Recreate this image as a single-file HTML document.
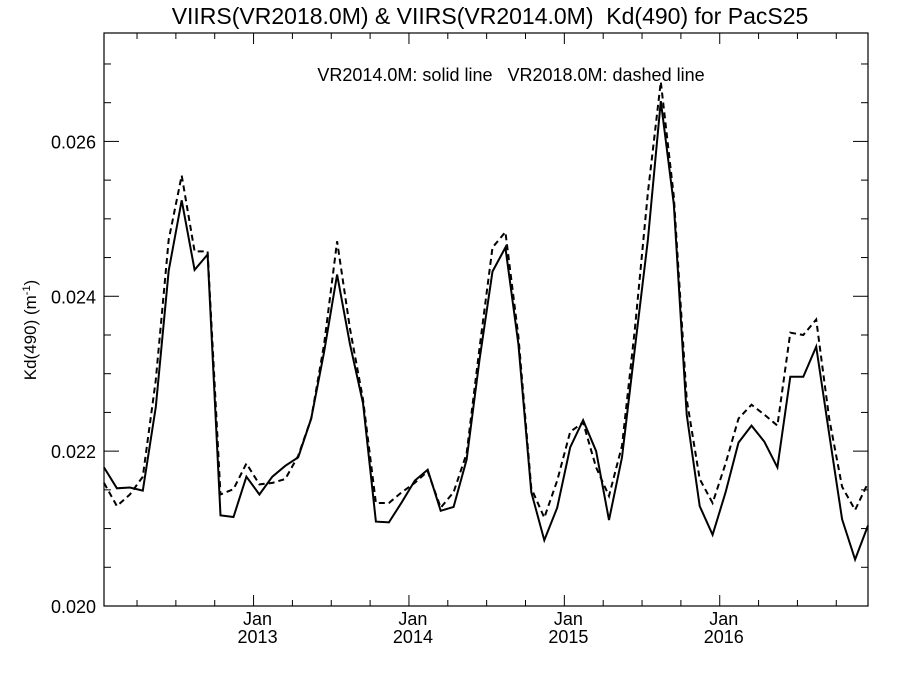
<!DOCTYPE html>
<html><head><meta charset="utf-8"><style>
html,body{margin:0;padding:0;background:#fff;}
svg{display:block;font-family:"Liberation Sans",sans-serif;}
text{white-space:pre;}
</style></head><body>
<svg id="chart" width="900" height="675" viewBox="0 0 900 675">
<rect width="900" height="675" fill="#fff"/>
<text x="490" y="24" font-size="23" text-anchor="middle" xml:space="preserve">VIIRS(VR2018.0M) &amp; VIIRS(VR2014.0M)  Kd(490) for PacS25</text>
<text x="511" y="81" font-size="18" text-anchor="middle" xml:space="preserve">VR2014.0M: solid line   VR2018.0M: dashed line</text>
<text transform="translate(36,330) rotate(-90)" font-size="17" text-anchor="middle">Kd(490) (m<tspan font-size="11" dy="-6">-1</tspan><tspan dy="6">)</tspan></text>
<g id="axes"></g>
<g id="series"></g>
</svg>
<script>
const yTickValues=[0.020,0.022,0.024,0.026];
const yTickLabels=["0.020","0.022","0.024","0.026"];
const xYearLabels=["2013","2014","2015","2016"];
const solidValues=[0.02179,0.02152,0.02153,0.02149,0.02257,0.02433,0.02524,0.02434,0.02454,0.02117,0.02115,0.02167,0.02144,0.02167,0.02181,0.02192,0.02242,0.02328,0.02428,0.02338,0.02262,0.02109,0.02108,0.02134,0.02162,0.02176,0.02123,0.02128,0.02189,0.02318,0.02432,0.02463,0.02338,0.02147,0.02085,0.02127,0.02205,0.0224,0.022,0.02111,0.02192,0.02333,0.02473,0.02652,0.02519,0.02247,0.02129,0.02092,0.02147,0.02211,0.02233,0.02212,0.02179,0.02296,0.02296,0.02335,0.02222,0.02112,0.0206,0.02104];
const dashedValues=[0.02159,0.02129,0.02144,0.02167,0.02292,0.02473,0.02556,0.02458,0.02458,0.02144,0.02151,0.02184,0.02157,0.02159,0.02164,0.02194,0.02242,0.02338,0.02471,0.02358,0.02267,0.02133,0.02133,0.02147,0.02159,0.02174,0.02127,0.02147,0.02197,0.02333,0.02463,0.02483,0.02348,0.02152,0.02114,0.02162,0.02225,0.02237,0.02179,0.02142,0.02207,0.02358,0.02534,0.02677,0.02529,0.02267,0.02164,0.02133,0.02184,0.02242,0.0226,0.02247,0.02233,0.02353,0.0235,0.0237,0.02242,0.02154,0.02124,0.02159];

const NS="http://www.w3.org/2000/svg";
const L=104,R=868,T=33,B=606;
const yMin=0.020,yMax=0.0274;
const monthPx=(R-L)/59;
function xScale(i){return L+i*monthPx;}
function yScale(v){return B-(v-yMin)/(yMax-yMin)*(B-T);}
function mk(tag,attrs,parent){const e=document.createElementNS(NS,tag);for(const k in attrs)e.setAttribute(k,attrs[k]);parent.appendChild(e);return e;}
const axes=document.getElementById('axes');
const frame=mk('rect',{x:L,y:T,width:R-L,height:B-T,fill:'none',stroke:'#000','stroke-width':1.2},axes);


for(let k=0;k<=14;k++){
  const v=yMin+k*0.0005; if(v>yMax)break;
  const y=yScale(v); const major=(k%4===0); const len=major?15:7;
  const t1=mk('line',{x1:L,y1:y,x2:L+len,y2:y,stroke:'#000','stroke-width':1},axes);
  
  
  const t2=mk('line',{x1:R,y1:y,x2:R-len,y2:y,stroke:'#000','stroke-width':1},axes);
  
  
}
yTickValues.forEach((v,i)=>{
  const t=mk('text',{x:L-8,y:yScale(v)+7,'font-size':18,'text-anchor':'end'},axes);
  t.textContent=yTickLabels[i];
  
  
});
for(let i=0;i<60;i++){
  if((i%3)!==0)continue;
  const x=xScale(i)-monthPx*0.45; if(x<=L+1)continue;
  const major=(i%12===0); const len=major?11:6;
  const a=mk('line',{x1:x,y1:B,x2:x,y2:B-len,stroke:'#000','stroke-width':1},axes);
  
  
  const b=mk('line',{x1:x,y1:T,x2:x,y2:T+len,stroke:'#000','stroke-width':1},axes);
  
  
}
xYearLabels.forEach((lab,k)=>{
  const x=xScale(12*(k+1))-monthPx*0.45;
  const j=mk('text',{x:x+4,y:625,'font-size':18,'text-anchor':'middle'},axes);
  j.textContent='Jan';
  
  
  const yr=mk('text',{x:x+4,y:643,'font-size':18,'text-anchor':'middle'},axes);
  yr.textContent=lab;
  
  
});
const series=document.getElementById('series');
function pts(arr){return arr.map((v,i)=>xScale(i).toFixed(1)+','+yScale(v).toFixed(1)).join(' ');}
const s=mk('polyline',{points:pts(solidValues),fill:'none',stroke:'#000','stroke-width':2},series);


const d=mk('polyline',{points:pts(dashedValues),fill:'none',stroke:'#000','stroke-width':2,'stroke-dasharray':'6,4'},series);


</script>
</body></html>
